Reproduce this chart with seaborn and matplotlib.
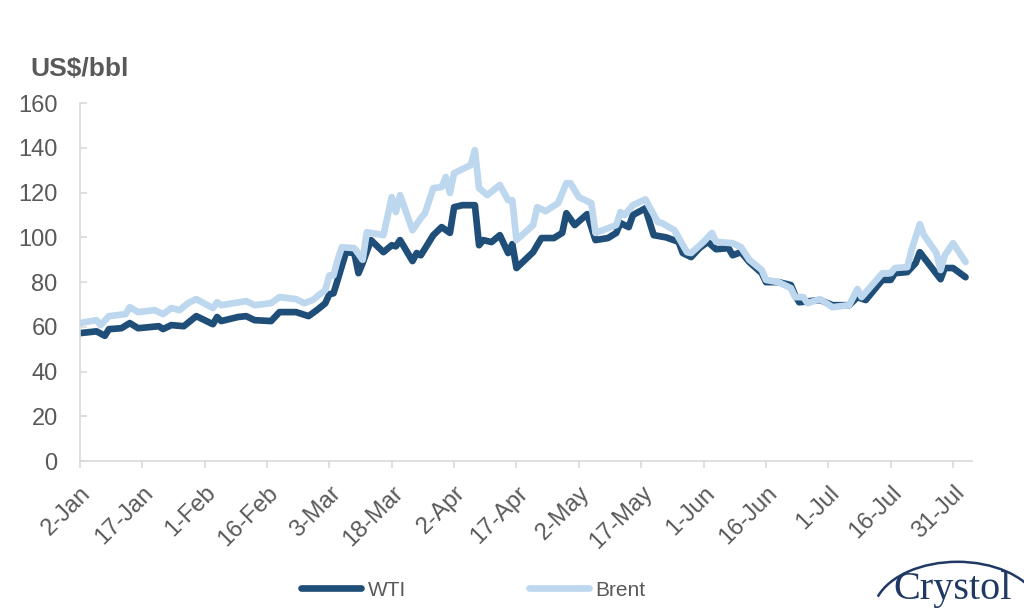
import pandas as pd
import numpy as np
import matplotlib
matplotlib.use("Agg")
import matplotlib.pyplot as plt
import matplotlib.dates as mdates
from matplotlib.patches import Arc
import seaborn as sns

# day offsets from 2-Jan and prices
start = "2022-01-02"
wti_days = [0, 4, 6, 7, 10, 12, 14, 19, 20, 22, 25, 28, 32, 33, 34, 38, 40, 42, 46, 48,
            52, 55, 57, 59, 60, 61, 62, 64, 66, 67, 68, 70, 73, 75, 76, 77, 80, 81, 82, 85,
            87, 89, 90, 92, 95, 96, 97, 99, 101, 103, 104, 105, 109, 111, 114, 116, 117, 119, 122, 124,
            127, 129, 130, 132, 133, 136, 138, 141, 144, 145, 147, 149, 151, 153, 156, 157, 159, 161, 164, 165,
            168, 171, 172, 173, 178, 181, 185, 187, 189, 193, 195, 196, 199, 201, 202, 207, 208, 210, 213]
wti = [57.2, 58, 56, 59, 59.4, 61.7, 59.4, 60.3, 59, 60.8, 60.3, 64.8, 61.2, 64.4, 62.6, 64.4, 64.8, 63, 62.6, 66.6,
       66.6, 64.8, 67.5, 70.5, 74.6, 75, 81, 93.4, 93, 84, 88.5, 98.8, 93.4, 96.5, 96, 98.8, 89.4, 93, 92, 101,
       104.6, 102, 113.5, 114.4, 114.4, 96.5, 98.8, 97.9, 101, 93, 97, 86.3, 93.4, 99.7, 99.7, 102, 110.8, 105.5, 110.4, 98.8,
       99.7, 102, 106.4, 104.6, 110, 113, 101, 100, 98, 93, 91.2, 95.2, 98, 94.7, 95.2, 92, 93.4, 89, 84, 80,
       80, 78.7, 74.2, 71, 72, 69.7, 69.7, 73.3, 72, 81, 81, 84, 84.5, 88.5, 93.4, 81.3, 86.3, 86.3, 82.2]

brent_days = [0, 4, 5, 7, 11, 12, 14, 18, 20, 22, 24, 26, 28, 32, 33, 34, 40, 42, 46, 48,
              52, 54, 56, 59, 60, 61, 62, 63, 66, 68, 69, 73, 75, 76, 77, 80, 82, 83, 85, 87,
              88, 89, 90, 94, 95, 96, 98, 101, 103, 104, 105, 109, 110, 112, 115, 117, 118, 120, 123, 124,
              129, 130, 131, 133, 136, 139, 140, 143, 146, 147, 150, 152, 153, 157, 159, 161, 164, 165, 168, 171,
              172, 174, 175, 178, 181, 185, 187, 188, 193, 195, 196, 199, 200, 202, 203, 206, 207, 208, 210, 213]
brent = [61.7, 63, 60.8, 64.8, 65.7, 68.8, 66.6, 67.5, 65.7, 68.4, 67.5, 70.6, 72.4, 68.4, 71, 69.7, 71.5, 69.7, 70.6, 73.3,
         72.4, 70.6, 72, 76.4, 83, 83, 90, 95.6, 95.2, 90, 102.3, 101, 118, 111.3, 118.9, 103.2, 108.6, 110.8, 122, 122.5,
         127, 119.8, 128.7, 132.3, 139, 122, 118.9, 123.4, 116.6, 116.6, 98.8, 105.5, 113.5, 111.7, 115.3, 124.2, 124.2, 118, 115.3, 102,
         105.5, 111.3, 110, 114.4, 117, 106.8, 106.4, 103.2, 93.4, 93, 98, 102, 98, 97.4, 95.6, 90, 85.4, 81, 80, 77.3,
         73.3, 73.3, 70.6, 72.4, 68.8, 69.7, 76.9, 73.3, 84, 84, 86.3, 86.7, 94.3, 105.9, 101, 93, 85.4, 92, 97.4, 89]

t0 = pd.Timestamp(start)
df_wti = pd.DataFrame({"Date": t0 + pd.to_timedelta(wti_days, unit="D"), "Price": wti, "Series": "WTI"})
df_brent = pd.DataFrame({"Date": t0 + pd.to_timedelta(brent_days, unit="D"), "Price": brent, "Series": "Brent"})
data = pd.concat([df_wti, df_brent], ignore_index=True)

sns.set_style("white")
plt.rcParams["font.family"] = ["Liberation Sans", "DejaVu Sans"]
grey = "#595959"

fig = plt.figure(figsize=(10.24, 6.14), dpi=100)
ax = fig.add_axes([0.078, 0.249, 0.871, 0.583])

sns.lineplot(data=data, x="Date", y="Price", hue="Series", hue_order=["WTI", "Brent"],
             palette={"WTI": "#1F4E79", "Brent": "#BDD7EE"}, linewidth=4.8, ax=ax,
             estimator=None, sort=False)
# Brent sits on top of WTI
for line in ax.get_lines():
    if line.get_color().upper() == "#BDD7EE":
        line.set_zorder(3)

ax.set_ylim(0, 160)
ax.set_yticks(range(0, 161, 20))
ax.set_xlim(t0, t0 + pd.Timedelta(days=214.5))
ticks = pd.date_range(start, periods=15, freq="15D")
ax.set_xticks(ticks)
ax.xaxis.set_major_formatter(mdates.DateFormatter("%-d-%b"))
ax.set_xlabel("")
ax.set_ylabel("")

for s in ["top", "right"]:
    ax.spines[s].set_visible(False)
for s in ["left", "bottom"]:
    ax.spines[s].set_color("#D9D9D9")
    ax.spines[s].set_linewidth(1.2)
ax.tick_params(axis="both", which="major", length=5, width=1.2, color="#D9D9D9",
               labelcolor=grey, left=True, bottom=True)
ax.tick_params(axis="y", labelsize=17, direction="in", pad=16)
ax.tick_params(axis="x", labelsize=17, direction="out", pad=10)
for lab in ax.get_xticklabels():
    lab.set_rotation(45)
    lab.set_ha("right")
    lab.set_rotation_mode("anchor")

fig.text(0.030, 0.888, "US$/bbl", fontsize=19, fontweight="bold", color=grey, va="center")

handles, labels = ax.get_legend_handles_labels()
ax.legend(handles, labels, loc="center", bbox_to_anchor=(0.462, 0.039), bbox_transform=fig.transFigure,
          ncol=2, frameon=False, fontsize=15, labelcolor=grey, handlelength=2.9,
          columnspacing=5.9, handletextpad=0.3)

# Crystol logo
fig.text(0.93, 0.040, "Crystol", fontsize=29, color="#1F3864", ha="center", va="center",
         family=["Liberation Serif", "DejaVu Serif"])
arc = Arc((0.935, 0.0), 0.165, 0.17, theta1=20, theta2=160, transform=fig.transFigure,
          color="#1F3864", linewidth=1.8)
fig.add_artist(arc)

fig.savefig("out.png", dpi=100)
